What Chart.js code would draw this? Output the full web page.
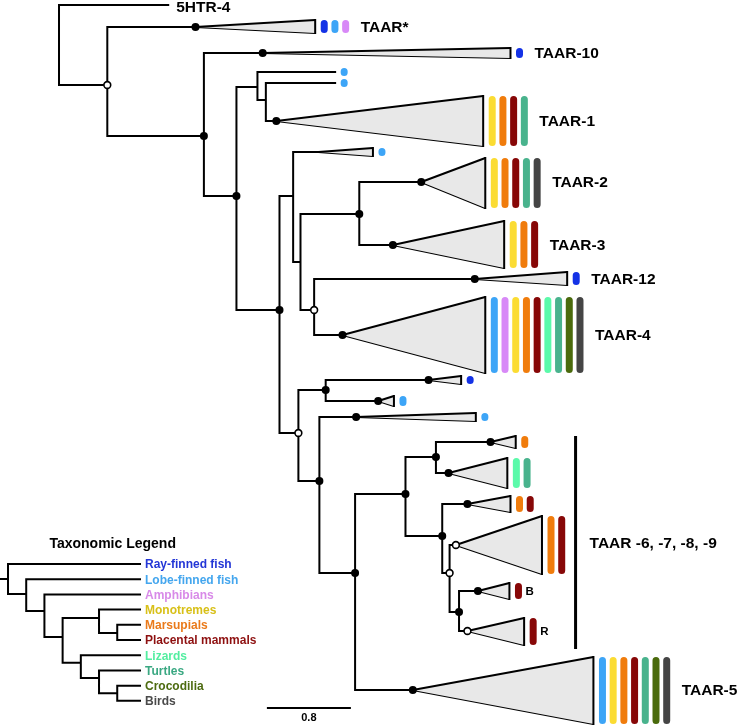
<!DOCTYPE html>
<html>
<head>
<meta charset="utf-8">
<script src="https://cdn.jsdelivr.net/npm/chart.js@4.4.1/dist/chart.umd.min.js"></script>
<style>
  body { margin: 0; background: #fff; }
  #wrap { width: 738px; height: 725px; }
</style>
</head>
<body>
<div id="wrap"><canvas id="tree" width="738" height="725"></canvas></div>
<script>
// taxonomic groups, in legend order
const taxa = ['ray', 'lobe', 'amph', 'mono', 'mars', 'plac', 'liz', 'turt', 'croc', 'bird'];
const taxonNames = ['Ray-finned fish', 'Lobe-finned fish', 'Amphibians', 'Monotremes', 'Marsupials',
  'Placental mammals', 'Lizards', 'Turtles', 'Crocodilia', 'Birds'];
const taxonColors = ['#1432e6', '#3da5f7', '#d889f7', '#fbdc33', '#f07c0c',
  '#870707', '#5bfaaa', '#49b38d', '#4a6a0c', '#454545'];
const taxonTextColors = ['#2336d6', '#44a6ee', '#d88ae8', '#d8c018', '#ea7a1a',
  '#8e1010', '#52eea0', '#3aa882', '#4d6b10', '#4a4a4a'];

// internal nodes of the TAAR tree (depth = substitutions/site from root, row = vertical slot)
const nodeIds     = ['R', 'n1', 'n2', 'n3', 'n4', 'n5', 'n6', 'n7', 'n8', 'n9', 'n10',
  'n11', 'n12', 'n13', 'n14', 'n15', 'n16', 'n17', 'n18', 'n19'];
const nodeParents = [null, 'R', 'n1', 'n2', 'n3', 'n4', 'n3', 'n6', 'n7', 'n8', 'n8',
  'n6', 'n11', 'n11', 'n13', 'n14', 'n15', 'n15', 'n17', 'n18'];
const nodeDepths  = [0, 0.46, 1.38, 1.69, 1.89, 1.97, 2.10, 2.23, 2.30, 2.86, 2.43,
  2.28, 2.54, 2.48, 2.82, 3.30, 3.59, 3.65, 3.72, 3.81];
const nodeRows    = [45, 85, 136, 196, 87, 100, 310, 196, 262, 214, 310,
  433, 390, 481, 573, 494, 457, 536, 573, 612];
const nodeSupport = ['', 'open', 'dot', 'dot', '', '', 'dot', '', '', 'dot', 'open',
  'open', 'dot', 'dot', 'dot', 'dot', 'dot', 'dot', 'open', 'dot'];

// tips and collapsed clades
const cladeIds     = ['5HTR-4', 'TAAR*', 'TAAR-10', 'lobeA', 'lobeB', 'TAAR-1', 'lobeC', 'TAAR-2',
  'TAAR-3', 'TAAR-12', 'TAAR-4', 'rayA', 'lobeD', 'lobeE', 'marsA', 'sauA', 'mamA', 'mamB',
  'B', 'R', 'TAAR-5'];
const cladeParents = ['R', 'n1', 'n2', 'n4', 'n5', 'n5', 'n7', 'n9',
  'n9', 'n10', 'n10', 'n12', 'n12', 'n13', 'n16', 'n16', 'n17', 'n18',
  'n19', 'n19', 'n14'];
const cladeApex    = [1.04, 1.30, 1.94, 2.63, 2.63, 2.07, 2.47, 3.45,
  3.18, 3.96, 2.70, 3.52, 3.04, 2.83, 4.11, 3.71, 3.89, 3.78,
  3.99, 3.89, 3.37];
const cladeTip     = [1.04, 2.44, 4.30, 2.63, 2.63, 4.04, 2.99, 4.06,
  4.24, 4.84, 4.06, 3.83, 3.19, 3.97, 4.35, 4.27, 4.30, 4.60,
  4.29, 4.43, 5.09];
const cladeRows    = [5, 27, 53, 72, 83, 121, 152, 182,
  245, 279, 335, 380, 401, 417, 442, 473, 504, 545,
  591, 631, 690];
const cladeTop     = [5, 20, 48, 68, 79, 96, 148, 158,
  221, 272, 297, 376, 396, 413, 436, 458, 496, 516,
  583, 618, 657];
const cladeBottom  = [5, 33, 58, 76, 87, 146, 156, 208,
  268, 285, 373, 384, 406, 421, 448, 488, 512, 574,
  599, 645, 724];
const cladeSupport = ['', 'dot', 'dot', '', '', 'dot', '', 'dot',
  'dot', 'dot', 'dot', 'dot', 'dot', 'dot', 'dot', 'dot', 'dot', 'open',
  'dot', 'open', 'dot'];
const cladeTaxa = [[], ['ray', 'lobe', 'amph'], ['ray'], ['lobe'], ['lobe'],
  ['mono', 'mars', 'plac', 'turt'], ['lobe'], ['mono', 'mars', 'plac', 'turt', 'bird'],
  ['mono', 'mars', 'plac'], ['ray'],
  ['lobe', 'amph', 'mono', 'mars', 'plac', 'liz', 'turt', 'croc', 'bird'],
  ['ray'], ['lobe'], ['lobe'], ['mars'], ['liz', 'turt'], ['mars', 'plac'], ['mars', 'plac'],
  ['plac'], ['plac'], ['lobe', 'mono', 'mars', 'plac', 'turt', 'croc', 'bird']];
const cladeLabels = ['5HTR-4', 'TAAR*', 'TAAR-10', '', '', 'TAAR-1', '', 'TAAR-2',
  'TAAR-3', 'TAAR-12', 'TAAR-4', '', '', '', '', '', '', '',
  'B', 'R', 'TAAR-5'];

// bracket grouping TAAR-6..9
const bracketLabel = 'TAAR -6, -7, -8, -9';
const bracketDepth = 4.92;
const bracketRows = [436, 649];

// scale bar
const scaleBarLength = 0.8;
const scaleBarStart = 1.98;
const scaleBarRow = 708;

// taxonomic legend tree (level = node depth in the cladogram, row = taxon slot)
const legendNodeIds     = ['a', 'b', 'c', 'd', 'e', 'f', 'g', 'h', 'i'];
const legendNodeParents = [null, 'a', 'b', 'c', 'd', 'e', 'd', 'g', 'h'];
const legendNodeLevels  = [0, 1, 2, 3, 5, 6, 4, 5, 6];
const legendNodeRows    = [0.99, 1.97, 3.09, 4.8, 3.55, 4.54, 6.5, 7.5, 8.5];
const legendTipParents  = ['a', 'b', 'c', 'e', 'f', 'f', 'g', 'h', 'i', 'i'];
const legendTipLevel = 7.25;
const legendRootLevel = -0.44;
const legendTitle = 'Taxonomic Legend';

// ---- build datasets ----
const BAR_GAP = 0.086, BAR_STEP = 0.102;   // in depth units
const FONT = '"Liberation Sans", Arial, Helvetica, sans-serif';

const depth = {}, rowOf = {}, parentOf = {};
nodeIds.forEach((id, i) => { depth[id] = nodeDepths[i]; rowOf[id] = nodeRows[i]; parentOf[id] = nodeParents[i]; });
cladeIds.forEach((id, i) => { depth['c:' + id] = cladeApex[i]; rowOf['c:' + id] = cladeRows[i]; parentOf['c:' + id] = cladeParents[i]; });

const branchPts = [];
function seg(list, pts) {
  list.push(...pts, { x: pts[pts.length - 1].x, y: null });
}
Object.keys(parentOf).forEach(id => {
  const p = parentOf[id];
  if (p == null) return;
  seg(branchPts, [{ x: depth[p], y: rowOf[id] }, { x: depth[id], y: rowOf[id] }]);
});
nodeIds.forEach(id => {
  const kids = Object.keys(parentOf).filter(k => parentOf[k] === id).map(k => rowOf[k]);
  seg(branchPts, [{ x: depth[id], y: Math.min(...kids) }, { x: depth[id], y: Math.max(...kids) }]);
});
cladeIds.forEach((id, i) => {
  if (cladeTip[i] > cladeApex[i]) {
    seg(branchPts, [{ x: cladeTip[i], y: cladeTop[i] }, { x: cladeTip[i], y: cladeBottom[i] }]);
  }
});
// bracket + scale bar
const bracketPts = [{ x: bracketDepth, y: bracketRows[0] }, { x: bracketDepth, y: bracketRows[1] }];
const scalePts = [{ x: scaleBarStart, y: scaleBarRow }, { x: scaleBarStart + scaleBarLength, y: scaleBarRow }];

// support markers
const dotPts = [], openPts = [];
nodeIds.forEach((id, i) => {
  if (nodeSupport[i] === 'dot') dotPts.push({ x: nodeDepths[i], y: nodeRows[i] });
  if (nodeSupport[i] === 'open') openPts.push({ x: nodeDepths[i], y: nodeRows[i] });
});
cladeIds.forEach((id, i) => {
  if (cladeSupport[i] === 'dot') dotPts.push({ x: cladeApex[i], y: cladeRows[i] });
  if (cladeSupport[i] === 'open') openPts.push({ x: cladeApex[i], y: cladeRows[i] });
});

// taxon bars
const barPts = taxa.map(() => []);
const lastBar = {};
cladeIds.forEach((id, i) => {
  cladeTaxa[i].forEach((t, k) => {
    const x = cladeTip[i] + BAR_GAP + k * BAR_STEP;
    seg(barPts[taxa.indexOf(t)], [{ x: x, y: cladeTop[i] + 3.5 }, { x: x, y: cladeBottom[i] - 3.5 }]);
    lastBar[id] = x;
  });
});

// legend tree
const lLevel = {}, lRow = {}, lParent = {};
legendNodeIds.forEach((id, i) => { lLevel[id] = legendNodeLevels[i]; lRow[id] = legendNodeRows[i]; lParent[id] = legendNodeParents[i]; });
taxa.forEach((t, i) => { lLevel['t:' + t] = legendTipLevel; lRow['t:' + t] = i; lParent['t:' + t] = legendTipParents[i]; });
const legendPts = [];
Object.keys(lParent).forEach(id => {
  const p = lParent[id];
  const from = p == null ? legendRootLevel : lLevel[p];
  seg(legendPts, [{ x: from, y: lRow[id] }, { x: lLevel[id], y: lRow[id] }]);
});
legendNodeIds.forEach(id => {
  const kids = Object.keys(lParent).filter(k => lParent[k] === id).map(k => lRow[k]);
  seg(legendPts, [{ x: lLevel[id], y: Math.min(...kids) }, { x: lLevel[id], y: Math.max(...kids) }]);
});

const datasets = [];
datasets.push({ data: dotPts, showLine: false, pointRadius: 4, pointBackgroundColor: '#000', pointBorderWidth: 0, order: 0 });
datasets.push({ data: openPts, showLine: false, pointRadius: 3.4, pointBackgroundColor: '#fff', pointBorderColor: '#000', pointBorderWidth: 1.6, order: 0 });
taxa.forEach((t, i) => {
  datasets.push({ data: barPts[i], borderColor: taxonColors[i], borderWidth: 7, borderCapStyle: 'round', pointRadius: 0, order: 1 });
});
datasets.push({ data: branchPts, borderColor: '#000', borderWidth: 2, borderCapStyle: 'square', pointRadius: 0, order: 2 });
datasets.push({ data: bracketPts, borderColor: '#000', borderWidth: 3, pointRadius: 0, order: 2 });
datasets.push({ data: scalePts, borderColor: '#000', borderWidth: 2, pointRadius: 0, order: 2 });
datasets.push({ data: legendPts, xAxisID: 'xl', yAxisID: 'yl', borderColor: '#000', borderWidth: 2, borderCapStyle: 'square', pointRadius: 0, order: 2 });
cladeIds.forEach((id, i) => {
  if (cladeTip[i] <= cladeApex[i]) return;
  datasets.push({
    data: [{ x: cladeApex[i], y: cladeRows[i] }, { x: cladeTip[i], y: cladeTop[i] }],
    borderColor: '#000', borderWidth: 2, pointRadius: 0, fill: '+1', backgroundColor: '#e8e8e8', order: 3
  });
  datasets.push({
    data: [{ x: cladeApex[i], y: cladeRows[i] }, { x: cladeTip[i], y: cladeBottom[i] }],
    borderColor: '#000', borderWidth: 2, pointRadius: 0, fill: false, order: 3
  });
});

// text labels drawn with the chart's scales
const treeLabels = {
  id: 'treeLabels',
  afterDatasetsDraw(chart) {
    const ctx = chart.ctx;
    const { x, y, xl, yl } = chart.scales;
    ctx.save();
    ctx.textBaseline = 'middle';
    ctx.textAlign = 'left';
    ctx.fillStyle = '#000';
    cladeIds.forEach((id, i) => {
      const label = cladeLabels[i];
      if (!label) return;
      const small = label.length === 1;
      ctx.font = 'bold ' + (small ? 11.5 : 15.5) + 'px ' + FONT;
      const px = lastBar[id] !== undefined ? x.getPixelForValue(lastBar[id]) + (small ? 7 : 15) : x.getPixelForValue(cladeTip[i]) + 8;
      const py = Math.max(y.getPixelForValue(cladeRows[i]) + 1, 8);
      ctx.fillText(label, px, py);
    });
    ctx.font = 'bold 15.5px ' + FONT;
    ctx.fillText(bracketLabel, x.getPixelForValue(bracketDepth) + 14, y.getPixelForValue((bracketRows[0] + bracketRows[1]) / 2) + 1);
    ctx.font = 'bold 11px ' + FONT;
    ctx.textAlign = 'center';
    ctx.fillText(String(scaleBarLength), x.getPixelForValue(scaleBarStart + scaleBarLength / 2), y.getPixelForValue(scaleBarRow) + 10);
    // legend
    ctx.font = 'bold 14px ' + FONT;
    ctx.fillText(legendTitle, xl.getPixelForValue(5.75), yl.getPixelForValue(-1.3));
    ctx.textAlign = 'left';
    ctx.font = 'bold 12px ' + FONT;
    taxonNames.forEach((name, i) => {
      ctx.fillStyle = taxonTextColors[i];
      ctx.fillText(name, xl.getPixelForValue(legendTipLevel) + 5, yl.getPixelForValue(i) + 1);
    });
    ctx.restore();
  }
};

new Chart(document.getElementById('tree'), {
  type: 'line',
  data: { datasets: datasets },
  options: {
    responsive: false,
    animation: false,
    events: [],
    layout: { padding: 0, autoPadding: false },
    elements: { line: { tension: 0 } },
    plugins: { legend: { display: false }, tooltip: { enabled: false } },
    scales: {
      x: { type: 'linear', min: -0.562, max: 6.467, display: false },
      y: { type: 'linear', min: 0, max: 725, reverse: true, display: false },
      xl: { type: 'linear', axis: 'x', position: 'bottom', min: -0.44, max: 40.1, display: false },
      yl: { type: 'linear', axis: 'y', position: 'left', min: -37.1, max: 10.59, reverse: true, display: false }
    }
  },
  plugins: [treeLabels]
});
</script>
</body>
</html>
